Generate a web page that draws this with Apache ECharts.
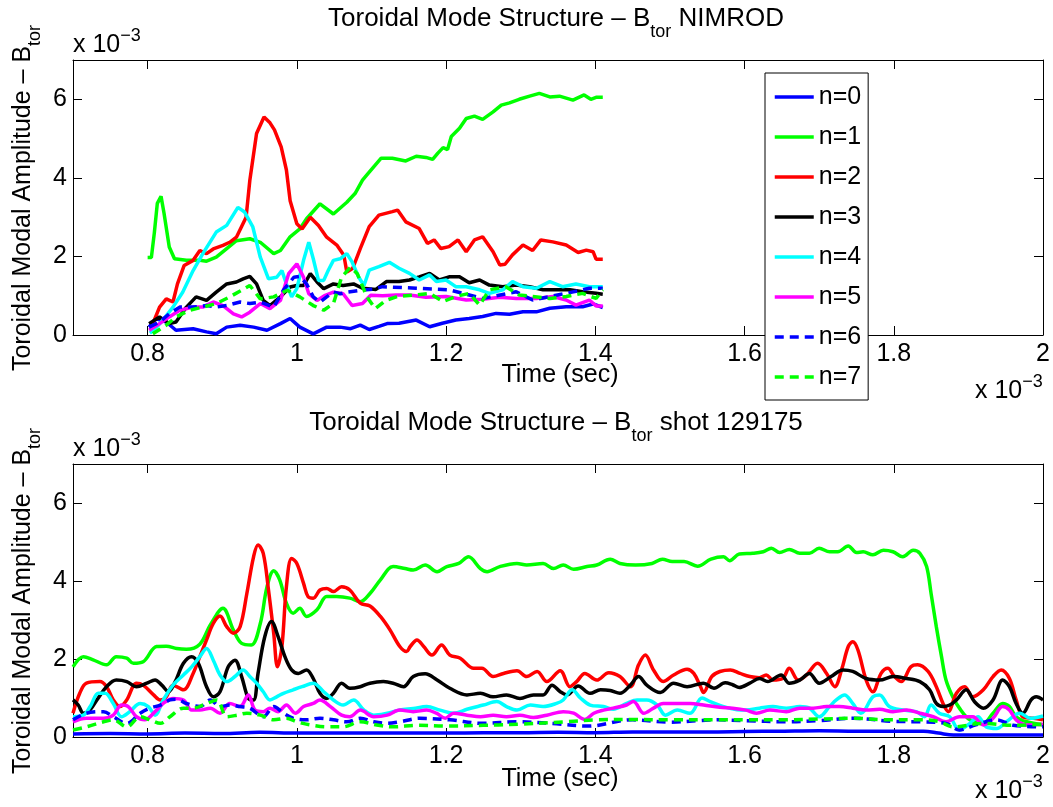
<!DOCTYPE html>
<html>
<head>
<meta charset="utf-8">
<script src="https://cdn.jsdelivr.net/npm/echarts@6/dist/echarts.min.js"></script>
<style>
  html, body { margin: 0; padding: 0; background: #ffffff; }
  #chart { width: 1053px; height: 807px; }
</style>
</head>
<body>
<div id="chart"></div>
<script>
// Toroidal mode amplitudes (units of 1e-3) versus time (units of 1e-3 sec)
const modeNames  = ['n=0', 'n=1', 'n=2', 'n=3', 'n=4', 'n=5', 'n=6', 'n=7'];
const modeColors = ['#0000ff', '#00ff00', '#ff0000', '#000000', '#00ffff', '#ff00ff', '#0000ff', '#00ff00'];
const modeDashed = [false, false, false, false, false, false, true, true];
const xTicks = [0.8, 1.0, 1.2, 1.4, 1.6, 1.8, 2.0];
const yTicks = [0, 2, 4, 6];

// NIMROD simulation
const nimrodN0 = [[0.802,0.20],[0.811,0.42],[0.825,0.33],[0.838,0.12],[0.861,0.16],[0.879,0.08],[0.892,0.03],[0.906,0.20],[0.924,0.25],[0.942,0.20],[0.960,0.12],[0.978,0.29],[0.991,0.42],[1.004,0.20],[1.022,0.03],[1.040,0.20],[1.058,0.20],[1.072,0.16],[1.085,0.25],[1.097,0.14],[1.110,0.22],[1.121,0.29],[1.137,0.30],[1.160,0.38],[1.178,0.21],[1.195,0.30],[1.213,0.38],[1.231,0.42],[1.249,0.47],[1.267,0.55],[1.285,0.53],[1.303,0.59],[1.321,0.59],[1.339,0.68],[1.361,0.72],[1.383,0.72],[1.397,0.79],[1.410,0.70]];
const nimrodN1 = [[0.800,1.97],[0.805,1.97],[0.809,2.60],[0.813,3.35],[0.818,3.53],[0.822,3.10],[0.829,2.24],[0.836,1.94],[0.852,1.90],[0.870,1.90],[0.879,1.88],[0.892,1.98],[0.906,2.20],[0.919,2.40],[0.937,2.45],[0.951,2.36],[0.969,2.07],[0.978,2.15],[0.991,2.50],[1.004,2.70],[1.013,2.96],[1.031,3.34],[1.049,3.08],[1.067,3.38],[1.078,3.60],[1.088,3.94],[1.095,4.10],[1.103,4.28],[1.113,4.50],[1.128,4.50],[1.146,4.43],[1.160,4.55],[1.173,4.52],[1.182,4.47],[1.189,4.63],[1.196,4.77],[1.202,4.72],[1.207,5.05],[1.218,5.26],[1.227,5.51],[1.238,5.57],[1.249,5.49],[1.263,5.68],[1.274,5.85],[1.285,5.91],[1.298,6.00],[1.312,6.08],[1.325,6.15],[1.339,6.06],[1.352,6.08],[1.370,5.98],[1.385,6.11],[1.394,6.00],[1.401,6.05],[1.410,6.05]];
const nimrodN2 = [[0.807,0.29],[0.816,0.71],[0.825,0.92],[0.834,0.84],[0.840,1.30],[0.849,1.77],[0.861,1.90],[0.870,2.15],[0.879,2.07],[0.888,2.19],[0.901,2.28],[0.910,2.36],[0.919,2.49],[0.932,3.00],[0.937,3.94],[0.946,5.13],[0.956,5.55],[0.964,5.40],[0.970,5.22],[0.979,4.79],[0.986,4.20],[0.991,3.42],[1.000,2.83],[1.007,2.70],[1.018,3.00],[1.029,2.79],[1.040,2.49],[1.054,2.28],[1.063,2.03],[1.067,1.60],[1.075,1.70],[1.085,2.20],[1.097,2.76],[1.110,3.05],[1.128,3.14],[1.135,3.18],[1.146,2.88],[1.164,2.71],[1.175,2.33],[1.184,2.42],[1.193,2.20],[1.204,2.25],[1.216,2.42],[1.227,2.12],[1.238,2.42],[1.249,2.50],[1.263,2.12],[1.272,1.78],[1.279,1.80],[1.289,2.04],[1.303,2.29],[1.316,2.15],[1.327,2.42],[1.343,2.37],[1.361,2.29],[1.377,2.10],[1.388,2.16],[1.397,2.12],[1.401,1.93],[1.410,1.93]];
const nimrodN3 = [[0.802,0.29],[0.816,0.46],[0.829,0.29],[0.838,0.33],[0.852,0.71],[0.865,0.97],[0.879,0.88],[0.892,1.09],[0.906,1.30],[0.919,1.35],[0.928,1.43],[0.937,1.49],[0.946,1.30],[0.955,0.88],[0.964,0.75],[0.978,0.97],[0.991,1.22],[1.000,1.26],[1.009,1.26],[1.018,1.56],[1.027,1.35],[1.036,1.18],[1.049,1.30],[1.062,1.26],[1.076,1.30],[1.088,1.19],[1.106,1.16],[1.120,1.36],[1.137,1.36],[1.151,1.40],[1.164,1.48],[1.178,1.57],[1.191,1.40],[1.204,1.48],[1.218,1.48],[1.231,1.33],[1.245,1.40],[1.258,1.27],[1.276,1.23],[1.294,1.27],[1.312,1.23],[1.330,1.15],[1.348,1.15],[1.366,1.15],[1.383,1.10],[1.401,1.06],[1.410,1.04]];
const nimrodN4 = [[0.803,0.05],[0.810,0.15],[0.820,0.37],[0.834,0.71],[0.847,1.09],[0.861,1.64],[0.874,2.07],[0.892,2.62],[0.906,2.79],[0.921,3.25],[0.930,3.13],[0.941,2.75],[0.951,1.98],[0.962,1.43],[0.973,1.47],[0.980,1.64],[0.986,1.30],[0.993,0.97],[1.000,1.18],[1.009,1.90],[1.016,2.36],[1.022,1.94],[1.029,1.39],[1.036,1.39],[1.042,1.64],[1.049,1.90],[1.058,1.94],[1.067,2.07],[1.074,1.86],[1.083,1.47],[1.090,1.26],[1.097,1.65],[1.110,1.74],[1.124,1.85],[1.137,1.70],[1.151,1.57],[1.164,1.40],[1.178,1.53],[1.187,1.36],[1.200,1.40],[1.213,1.23],[1.227,1.23],[1.245,1.15],[1.258,1.06],[1.276,1.15],[1.289,1.36],[1.303,1.23],[1.321,1.19],[1.339,1.36],[1.356,1.23],[1.374,1.30],[1.392,1.23],[1.410,1.23]];
const nimrodN5 = [[0.802,0.12],[0.816,0.29],[0.829,0.46],[0.843,0.63],[0.861,0.71],[0.874,0.71],[0.888,0.84],[0.901,0.75],[0.915,0.54],[0.926,0.46],[0.937,0.58],[0.951,0.80],[0.964,0.67],[0.978,0.88],[0.989,1.56],[1.000,1.81],[1.009,1.47],[1.016,1.05],[1.027,0.88],[1.038,1.01],[1.049,1.09],[1.062,1.05],[1.074,0.75],[1.088,0.80],[1.099,1.01],[1.115,1.00],[1.133,1.02],[1.151,1.02],[1.173,0.96],[1.200,0.98],[1.227,0.89],[1.249,0.91],[1.272,0.96],[1.294,0.93],[1.321,0.93],[1.343,0.98],[1.361,0.89],[1.374,0.76],[1.392,0.89],[1.401,0.74],[1.410,0.74]];
const nimrodN6 = [[0.802,0.20],[0.816,0.33],[0.829,0.54],[0.843,0.71],[0.861,0.71],[0.879,0.75],[0.892,0.71],[0.906,0.75],[0.924,0.84],[0.937,0.80],[0.951,0.84],[0.969,0.71],[0.982,1.14],[0.996,1.47],[1.004,1.49],[1.013,1.30],[1.022,0.97],[1.031,0.84],[1.040,0.97],[1.049,1.09],[1.058,1.05],[1.067,1.09],[1.085,1.14],[1.103,1.17],[1.115,1.23],[1.160,1.19],[1.204,1.15],[1.249,0.93],[1.294,1.10],[1.316,0.89],[1.361,1.06],[1.392,1.19],[1.410,1.19]];
const nimrodN7 = [[0.807,0.03],[0.825,0.25],[0.838,0.46],[0.856,0.63],[0.874,0.71],[0.892,0.80],[0.910,0.97],[0.926,1.14],[0.937,1.26],[0.951,0.92],[0.969,0.97],[0.987,1.14],[1.004,0.97],[1.022,0.75],[1.036,0.63],[1.049,0.80],[1.060,1.47],[1.072,1.73],[1.081,1.56],[1.094,0.97],[1.105,0.67],[1.119,0.88],[1.135,0.98],[1.160,1.02],[1.178,1.06],[1.196,0.85],[1.213,0.98],[1.231,1.06],[1.245,0.76],[1.258,1.15],[1.280,1.23],[1.298,1.02],[1.316,0.98],[1.339,0.93],[1.361,0.98],[1.383,1.06],[1.401,0.93],[1.410,1.15]];

// Shot 129175 measurement
const shotN0 = [[0.700,0.08],[0.750,0.09],[0.800,0.08],[0.850,0.10],[0.900,0.09],[0.950,0.12],[1.000,0.10],[1.050,0.10],[1.100,0.10],[1.150,0.10],[1.200,0.10],[1.250,0.11],[1.300,0.11],[1.350,0.12],[1.400,0.11],[1.450,0.13],[1.500,0.13],[1.550,0.13],[1.600,0.14],[1.650,0.15],[1.700,0.16],[1.750,0.15],[1.800,0.15],[1.840,0.15],[1.860,0.10],[1.880,0.05],[1.920,0.05],[1.960,0.05],[2.000,0.05]];
const shotN1 = [[0.700,1.80],[0.714,2.06],[0.727,1.98],[0.745,1.85],[0.758,2.06],[0.772,2.02],[0.781,1.89],[0.794,1.93],[0.812,2.32],[0.825,2.33],[0.839,2.27],[0.852,2.25],[0.870,2.38],[0.884,2.87],[0.901,3.30],[0.915,2.74],[0.926,2.40],[0.939,2.36],[0.951,2.91],[0.960,3.85],[0.969,4.26],[0.977,4.03],[0.986,3.43],[0.995,3.17],[1.004,3.30],[1.013,3.09],[1.027,3.26],[1.040,3.60],[1.053,3.60],[1.071,3.56],[1.085,3.47],[1.098,3.68],[1.112,4.03],[1.129,4.37],[1.145,4.32],[1.156,4.28],[1.172,4.41],[1.188,4.24],[1.201,4.37],[1.217,4.45],[1.230,4.62],[1.246,4.32],[1.255,4.24],[1.272,4.37],[1.295,4.45],[1.308,4.41],[1.330,4.45],[1.344,4.32],[1.357,4.41],[1.371,4.30],[1.389,4.37],[1.402,4.41],[1.420,4.56],[1.433,4.45],[1.454,4.41],[1.476,4.45],[1.490,4.56],[1.503,4.50],[1.519,4.50],[1.537,4.38],[1.555,4.56],[1.572,4.62],[1.580,4.52],[1.593,4.69],[1.611,4.71],[1.625,4.75],[1.636,4.84],[1.647,4.73],[1.660,4.81],[1.674,4.71],[1.687,4.71],[1.700,4.84],[1.714,4.75],[1.725,4.75],[1.739,4.90],[1.750,4.73],[1.759,4.75],[1.772,4.67],[1.786,4.79],[1.799,4.75],[1.812,4.62],[1.826,4.79],[1.835,4.71],[1.844,4.37],[1.850,3.68],[1.857,2.83],[1.864,2.06],[1.870,1.46],[1.879,1.03],[1.888,0.74],[1.902,0.44],[1.920,0.35],[1.933,0.61],[1.946,0.86],[1.955,0.78],[1.964,0.52],[1.978,0.39],[2.000,0.31]];
const shotN2 = [[0.700,0.61],[0.709,1.12],[0.718,1.38],[0.736,1.42],[0.745,1.29],[0.754,0.95],[0.763,0.78],[0.772,0.95],[0.785,1.38],[0.794,1.33],[0.808,1.08],[0.817,0.95],[0.825,1.03],[0.834,1.33],[0.848,1.21],[0.861,1.63],[0.870,2.06],[0.879,2.49],[0.888,2.91],[0.897,3.10],[0.906,2.83],[0.915,2.66],[0.924,2.83],[0.933,3.68],[0.942,4.62],[0.948,4.92],[0.955,4.71],[0.962,3.77],[0.969,2.66],[0.974,1.80],[0.980,2.32],[0.986,3.85],[0.993,4.58],[1.000,4.45],[1.009,3.94],[1.015,3.60],[1.022,3.56],[1.031,3.77],[1.040,3.81],[1.049,3.73],[1.060,3.85],[1.071,3.77],[1.085,3.43],[1.098,3.36],[1.112,3.09],[1.125,2.74],[1.138,2.32],[1.147,2.19],[1.152,2.32],[1.161,2.49],[1.170,2.32],[1.181,2.10],[1.194,2.36],[1.205,2.10],[1.219,2.02],[1.237,1.76],[1.248,1.76],[1.263,1.55],[1.277,1.63],[1.295,1.70],[1.308,1.55],[1.322,1.68],[1.335,1.42],[1.353,1.70],[1.366,1.29],[1.375,1.42],[1.386,1.63],[1.402,1.46],[1.418,1.65],[1.433,1.55],[1.447,1.29],[1.458,1.85],[1.467,2.10],[1.478,1.72],[1.491,1.42],[1.505,1.59],[1.523,1.74],[1.532,1.63],[1.541,1.29],[1.545,1.14],[1.556,1.55],[1.567,1.68],[1.581,1.72],[1.594,1.63],[1.607,1.55],[1.620,1.52],[1.629,1.59],[1.638,1.46],[1.651,1.50],[1.660,1.76],[1.672,1.46],[1.683,1.59],[1.698,1.89],[1.710,1.63],[1.721,1.29],[1.730,1.72],[1.739,2.32],[1.745,2.44],[1.752,2.23],[1.763,1.46],[1.772,1.16],[1.783,1.63],[1.792,1.76],[1.801,1.55],[1.810,1.42],[1.823,1.80],[1.832,1.85],[1.846,1.68],[1.857,1.29],[1.866,0.86],[1.873,0.65],[1.884,1.12],[1.895,1.29],[1.906,1.03],[1.920,1.21],[1.933,1.55],[1.944,1.72],[1.955,1.50],[1.964,0.95],[1.973,0.52],[1.987,0.48],[2.000,0.44]];
const shotN3 = [[0.700,0.95],[0.707,0.82],[0.714,0.61],[0.723,0.70],[0.732,0.95],[0.745,1.29],[0.758,1.46],[0.772,1.42],[0.785,1.29],[0.799,1.38],[0.810,1.46],[0.819,1.33],[0.828,1.16],[0.837,1.42],[0.848,1.89],[0.859,2.06],[0.868,1.89],[0.879,1.29],[0.888,1.03],[0.897,1.16],[0.908,1.80],[0.917,1.97],[0.926,1.55],[0.935,0.99],[0.942,0.95],[0.948,1.63],[0.957,2.57],[0.966,2.96],[0.975,2.57],[0.984,2.06],[0.993,1.72],[1.002,1.63],[1.013,1.72],[1.022,1.50],[1.031,1.12],[1.040,0.99],[1.049,1.12],[1.060,1.38],[1.071,1.25],[1.085,1.29],[1.098,1.38],[1.116,1.42],[1.129,1.38],[1.143,1.29],[1.156,1.55],[1.172,1.62],[1.188,1.46],[1.205,1.25],[1.228,1.08],[1.246,1.12],[1.263,1.03],[1.281,1.08],[1.299,0.99],[1.317,1.08],[1.330,1.08],[1.342,1.33],[1.353,1.16],[1.362,1.08],[1.377,1.31],[1.393,1.12],[1.407,1.21],[1.420,1.19],[1.433,1.12],[1.447,1.33],[1.458,1.55],[1.469,1.33],[1.487,1.14],[1.505,1.38],[1.523,1.29],[1.545,1.38],[1.559,1.25],[1.574,1.39],[1.584,1.34],[1.593,1.27],[1.607,1.38],[1.620,1.50],[1.631,1.42],[1.649,1.59],[1.660,1.38],[1.674,1.46],[1.687,1.63],[1.700,1.38],[1.716,1.55],[1.732,1.72],[1.745,1.68],[1.763,1.50],[1.781,1.46],[1.799,1.55],[1.817,1.50],[1.835,1.42],[1.848,1.21],[1.857,0.86],[1.866,0.78],[1.875,0.82],[1.884,0.95],[1.897,1.21],[1.908,0.91],[1.920,0.74],[1.933,0.95],[1.946,1.46],[1.955,1.29],[1.964,0.86],[1.973,0.61],[1.984,0.95],[1.991,1.03],[2.000,0.95]];
const shotN4 = [[0.700,0.52],[0.714,0.56],[0.723,0.78],[0.734,1.12],[0.743,1.12],[0.754,0.86],[0.765,0.52],[0.776,0.65],[0.790,0.86],[0.801,0.78],[0.810,0.56],[0.821,0.95],[0.834,1.33],[0.848,1.59],[0.859,1.80],[0.870,2.06],[0.879,2.27],[0.888,1.97],[0.897,1.59],[0.906,1.42],[0.917,1.55],[0.928,1.72],[0.937,1.55],[0.946,1.38],[0.955,1.16],[0.964,0.95],[0.973,1.03],[0.982,1.12],[0.995,1.21],[1.007,1.29],[1.022,1.38],[1.036,1.16],[1.049,0.95],[1.062,0.82],[1.076,0.95],[1.090,0.69],[1.103,0.56],[1.121,0.61],[1.138,0.69],[1.156,0.73],[1.174,0.78],[1.192,0.69],[1.210,0.61],[1.228,0.71],[1.250,0.82],[1.268,0.91],[1.281,0.78],[1.295,0.69],[1.313,0.82],[1.330,0.78],[1.348,0.86],[1.357,0.95],[1.369,1.21],[1.380,1.00],[1.393,0.82],[1.411,0.78],[1.424,0.71],[1.442,0.86],[1.456,0.95],[1.469,0.95],[1.483,0.82],[1.494,0.56],[1.510,0.69],[1.527,0.61],[1.543,1.00],[1.554,0.91],[1.572,0.78],[1.590,0.70],[1.602,0.69],[1.620,0.74],[1.638,0.78],[1.656,0.74],[1.674,0.78],[1.687,0.74],[1.700,0.52],[1.714,0.78],[1.723,0.95],[1.734,1.08],[1.745,0.86],[1.756,0.61],[1.772,1.03],[1.781,1.08],[1.794,0.78],[1.812,0.69],[1.830,0.65],[1.841,0.52],[1.850,0.82],[1.861,0.61],[1.875,0.52],[1.888,0.18],[1.902,0.35],[1.913,0.52],[1.924,0.26],[1.938,0.22],[1.951,0.39],[1.969,0.61],[1.983,0.48],[2.000,0.54]];
const shotN5 = [[0.700,0.39],[0.718,0.48],[0.741,0.48],[0.754,0.56],[0.765,0.82],[0.774,0.78],[0.785,0.52],[0.796,0.44],[0.810,0.65],[0.821,0.86],[0.834,0.99],[0.848,0.95],[0.859,0.69],[0.870,0.69],[0.884,0.74],[0.897,0.61],[0.910,0.86],[0.924,0.78],[0.935,1.08],[0.944,0.69],[0.955,0.65],[0.964,0.74],[0.975,0.65],[0.986,0.82],[0.998,0.61],[1.009,0.78],[1.022,0.86],[1.031,0.95],[1.045,0.78],[1.060,0.56],[1.071,0.52],[1.085,0.69],[1.103,0.52],[1.121,0.56],[1.138,0.69],[1.156,0.65],[1.174,0.69],[1.187,0.61],[1.199,0.48],[1.210,0.61],[1.228,0.56],[1.246,0.52],[1.263,0.56],[1.281,0.52],[1.299,0.56],[1.317,0.50],[1.335,0.56],[1.357,0.65],[1.371,0.61],[1.386,0.45],[1.398,0.61],[1.411,0.69],[1.424,0.74],[1.442,0.82],[1.451,0.91],[1.465,0.61],[1.478,0.74],[1.491,0.86],[1.509,0.86],[1.527,0.86],[1.545,0.82],[1.567,0.76],[1.584,0.74],[1.602,0.69],[1.616,0.61],[1.634,0.69],[1.656,0.65],[1.674,0.74],[1.692,0.74],[1.710,0.78],[1.727,0.78],[1.745,0.74],[1.763,0.69],[1.781,0.71],[1.799,0.65],[1.817,0.69],[1.835,0.61],[1.853,0.52],[1.870,0.39],[1.888,0.52],[1.906,0.52],[1.920,0.31],[1.933,0.48],[1.946,0.78],[1.955,0.69],[1.964,0.44],[1.978,0.31],[2.000,0.33]];
const shotN6 = [[0.700,0.44],[0.718,0.61],[0.741,0.65],[0.754,0.52],[0.772,0.35],[0.790,0.61],[0.803,0.74],[0.817,0.82],[0.830,0.95],[0.839,0.97],[0.852,0.86],[0.870,0.78],[0.884,0.95],[0.897,0.78],[0.910,0.82],[0.924,0.78],[0.937,0.74],[0.955,0.52],[0.969,0.78],[0.982,0.61],[0.995,0.48],[1.013,0.44],[1.031,0.48],[1.049,0.44],[1.067,0.39],[1.085,0.48],[1.103,0.39],[1.121,0.35],[1.138,0.39],[1.165,0.48],[1.205,0.44],[1.250,0.35],[1.295,0.39],[1.340,0.35],[1.390,0.28],[1.450,0.44],[1.500,0.38],[1.540,0.42],[1.566,0.44],[1.600,0.42],[1.656,0.39],[1.700,0.42],[1.745,0.48],[1.800,0.40],[1.835,0.39],[1.870,0.35],[1.888,0.18],[1.910,0.31],[1.938,0.44],[1.960,0.30],[2.000,0.26]];
const shotN7 = [[0.700,0.18],[0.718,0.26],[0.741,0.39],[0.754,0.44],[0.772,0.26],[0.790,0.52],[0.803,0.44],[0.817,0.35],[0.830,0.52],[0.848,0.74],[0.861,0.74],[0.879,0.86],[0.893,0.95],[0.906,0.52],[0.920,0.56],[0.933,0.61],[0.951,0.56],[0.969,0.44],[0.986,0.48],[1.000,0.39],[1.018,0.31],[1.040,0.26],[1.062,0.26],[1.085,0.39],[1.107,0.31],[1.130,0.26],[1.160,0.30],[1.200,0.28],[1.250,0.30],[1.270,0.31],[1.300,0.33],[1.360,0.39],[1.400,0.44],[1.450,0.45],[1.500,0.44],[1.566,0.44],[1.600,0.44],[1.656,0.44],[1.700,0.46],[1.745,0.48],[1.790,0.44],[1.835,0.44],[1.860,0.40],[1.880,0.26],[1.920,0.35],[1.960,0.30],[2.000,0.33]];

const nimrodSeries = [nimrodN0, nimrodN1, nimrodN2, nimrodN3, nimrodN4, nimrodN5, nimrodN6, nimrodN7];
const shotSeries   = [shotN0, shotN1, shotN2, shotN3, shotN4, shotN5, shotN6, shotN7];

const FONT = '"Liberation Sans", Arial, Helvetica, sans-serif';
const BASE = 25;   // axis / label font size
const TITLE = 26;  // title font size
const SMALL = 18;  // sub- and superscript size
const LINE_W = 3.5;

// ---- text helpers: rows of differently sized pieces placed by measured width
const measureCtx = document.createElement('canvas').getContext('2d');
function textWidth(str, size) {
  measureCtx.font = size + 'px ' + FONT;
  return measureCtx.measureText(str).width;
}
// parts: [text, fontSize, baselineShift]; (x, y) is the main baseline anchor
function composite(parts, x, y, anchor, rotation) {
  const widths = parts.map(p => textWidth(p[0], p[1]));
  const total = widths.reduce((a, b) => a + b, 0);
  let cx = anchor === 'center' ? -total / 2 : (anchor === 'right' ? -total : 0);
  const children = parts.map((p, i) => {
    const el = {
      type: 'text', x: cx, y: p[2] - 0.3465 * p[1],
      style: { text: p[0], font: p[1] + 'px ' + FONT, fill: '#000', align: 'left', verticalAlign: 'middle' }
    };
    cx += widths[i];
    return el;
  });
  return { type: 'group', x: x, y: y, rotation: rotation || 0, children: children, z: 20 };
}

const tickFmt = v => String(Math.round(v * 10) / 10);

function axisPair(gridIndex) {
  const lineStyle = { color: '#000', width: 1 };
  const x = [
    { gridIndex, type: 'value', min: 0.7, max: 2.0, position: 'bottom',
      axisLine: { show: true, onZero: false, lineStyle },
      axisTick: { show: true, inside: true, length: 9, customValues: xTicks, lineStyle },
      axisLabel: { show: true, customValues: xTicks, formatter: tickFmt, color: '#000', fontSize: BASE, fontFamily: FONT, margin: 7 },
      splitLine: { show: false } },
    { gridIndex, type: 'value', min: 0.7, max: 2.0, position: 'top',
      axisLine: { show: true, onZero: false, lineStyle },
      axisTick: { show: true, inside: true, length: 9, customValues: xTicks, lineStyle },
      axisLabel: { show: false }, splitLine: { show: false } }
  ];
  const y = [
    { gridIndex, type: 'value', min: 0, max: 7, position: 'left',
      axisLine: { show: true, onZero: false, lineStyle },
      axisTick: { show: true, inside: true, length: 9, customValues: yTicks, lineStyle },
      axisLabel: { show: true, customValues: yTicks, formatter: tickFmt, color: '#000', fontSize: BASE, fontFamily: FONT, margin: 6 },
      splitLine: { show: false } },
    { gridIndex, type: 'value', min: 0, max: 7, position: 'right',
      axisLine: { show: true, onZero: false, lineStyle },
      axisTick: { show: true, inside: true, length: 9, customValues: yTicks, lineStyle },
      axisLabel: { show: false }, splitLine: { show: false } }
  ];
  return { x, y };
}

const upperAxes = axisPair(0), lowerAxes = axisPair(1);

function buildSeries(list, axisIndex, smooth) {
  return list.map((data, i) => ({
    name: modeNames[i],
    type: 'line',
    xAxisIndex: axisIndex, yAxisIndex: axisIndex,
    data: data,
    showSymbol: false, symbol: 'none',
    smooth: smooth,
    color: modeColors[i],
    lineStyle: { width: LINE_W, color: modeColors[i], type: modeDashed[i] ? [9, 6] : 'solid' },
    z: 2 + i * 0.01,
    silent: true
  }));
}

const SUB = 10, SUP = -12;
const graphics = [
  composite([['Toroidal Mode Structure \u2013 B', TITLE, 0], ['tor', SMALL, SUB], [' NIMROD', TITLE, 0]], 556, 28, 'center'),
  composite([['Toroidal Mode Structure \u2013 B', TITLE, 0], ['tor', SMALL, SUB], [' shot 129175', TITLE, 0]], 556, 432, 'center'),
  composite([['Toroidal Modal Amplitude \u2013 B', BASE, 0], ['tor', SMALL, SUB]], 31.5, 198, 'center', Math.PI / 2),
  composite([['Toroidal Modal Amplitude \u2013 B', BASE, 0], ['tor', SMALL, SUB]], 31.5, 601, 'center', Math.PI / 2),
  composite([['Time (sec)', BASE, 0]], 560, 384, 'center'),
  composite([['Time (sec)', BASE, 0]], 560, 788, 'center'),
  composite([['x 10', BASE, 0], ['\u22123', SMALL, SUP]], 73, 54, 'left'),
  composite([['x 10', BASE, 0], ['\u22123', SMALL, SUP]], 73, 458, 'left'),
  composite([['x 10', BASE, 0], ['\u22123', SMALL, SUP]], 975, 400, 'left'),
  composite([['x 10', BASE, 0], ['\u22123', SMALL, SUP]], 975, 800, 'left')
];

const chart = echarts.init(document.getElementById('chart'), null, { renderer: 'canvas' });
chart.setOption({
  animation: false,
  backgroundColor: '#ffffff',
  grid: [
    { left: 73, top: 60, width: 970, height: 275, containLabel: false },
    { left: 73, top: 464, width: 970, height: 273, containLabel: false }
  ],
  xAxis: [...upperAxes.x, ...lowerAxes.x],
  yAxis: [...upperAxes.y, ...lowerAxes.y],
  legend: {
    data: modeNames,
    orient: 'vertical',
    left: 765, top: 73,
    padding: [10, 7, 9, 8],
    itemWidth: 39, itemHeight: 2, itemGap: 12,
    backgroundColor: '#ffffff',
    borderColor: '#000000', borderWidth: 1,
    selectedMode: false,
    z: 30,
    // line sample only: the marker drawn with each sample is made invisible
    itemStyle: { opacity: 0, borderWidth: 0 },
    lineStyle: { width: LINE_W },
    textStyle: { color: '#000', fontSize: BASE, fontFamily: FONT, lineHeight: 28 }
  },
  graphic: graphics,
  series: [...buildSeries(nimrodSeries, 0, false), ...buildSeries(shotSeries, 2, 0.35)]
});
</script>
</body>
</html>
